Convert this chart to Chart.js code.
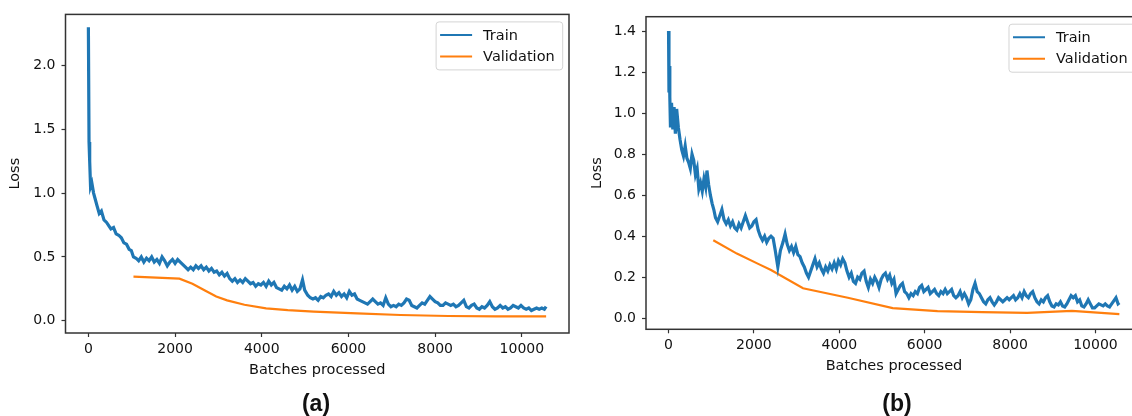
<!DOCTYPE html>
<html>
<head>
<meta charset="utf-8">
<script src="https://cdn.jsdelivr.net/npm/chart.js@4.4.1/dist/chart.umd.min.js"></script>
<style>
  html, body { margin: 0; padding: 0; background: #fff; overflow: hidden; width: 1132px; height: 416px; }
  canvas { position: absolute; top: 0; }
  #chartA { left: 0; }
  #chartB { left: 570px; }
  .cap { position: absolute; top: 389px; width: 100px; text-align: center;
         font: bold 23px "Liberation Sans", Arial, sans-serif; line-height: 28px; color: #111; }
</style>
</head>
<body>
<canvas id="chartA" width="575" height="390"></canvas>
<canvas id="chartB" width="580" height="390"></canvas>
<div class="cap" style="left:266px">(a)</div>
<div class="cap" style="left:847px">(b)</div>
<script>
const xTicks = [0, 2000, 4000, 6000, 8000, 10000];
const yTicksA = [0, 0.5, 1.0, 1.5, 2.0];
const yTicksB = [0, 0.2, 0.4, 0.6, 0.8, 1.0, 1.2, 1.4];
const seriesNames = ["Train", "Validation"];

// panel (a): [batches, loss]
const trainA = [
  [0,2.30],[15,1.40],[30,1.25],[50,1.05],[80,1.08],[120,1.00],[160,0.95],[200,0.90],[250,0.84],[300,0.86],
  [360,0.79],[420,0.77],[480,0.74],[520,0.72],[580,0.73],[640,0.68],[700,0.67],[760,0.65],[820,0.61],[880,0.60],
  [940,0.56],[990,0.55],[1040,0.50],[1100,0.49],[1160,0.47],[1220,0.50],[1280,0.46],[1340,0.49],[1400,0.47],[1460,0.50],
  [1520,0.46],[1580,0.48],[1640,0.45],[1700,0.50],[1760,0.47],[1820,0.43],[1880,0.46],[1940,0.48],[2000,0.45],[2060,0.48],
  [2120,0.46],[2180,0.44],[2240,0.42],[2300,0.40],[2360,0.42],[2420,0.40],[2480,0.43],[2540,0.41],[2600,0.43],[2660,0.40],
  [2720,0.42],[2780,0.39],[2840,0.41],[2900,0.38],[2960,0.39],[3020,0.36],[3080,0.38],[3140,0.35],[3200,0.37],[3260,0.33],
  [3320,0.31],[3380,0.33],[3440,0.30],[3500,0.32],[3560,0.30],[3620,0.33],[3680,0.31],[3740,0.29],[3800,0.30],[3860,0.27],
  [3920,0.29],[3980,0.28],[4040,0.30],[4100,0.27],[4160,0.31],[4220,0.28],[4280,0.30],[4340,0.26],[4400,0.25],[4460,0.24],
  [4520,0.27],[4580,0.25],[4640,0.28],[4700,0.24],[4760,0.27],[4820,0.23],[4880,0.25],[4940,0.32],[4990,0.24],[5060,0.20],
  [5120,0.18],[5180,0.17],[5240,0.18],[5300,0.16],[5360,0.19],[5420,0.18],[5480,0.20],[5540,0.21],[5600,0.19],[5660,0.23],
  [5720,0.20],[5780,0.22],[5840,0.19],[5900,0.21],[5960,0.18],[6020,0.23],[6080,0.20],[6140,0.21],[6200,0.17],[6260,0.16],
  [6320,0.15],[6380,0.14],[6440,0.13],[6500,0.15],[6560,0.17],[6620,0.15],[6680,0.13],[6740,0.14],[6800,0.12],[6860,0.18],
  [6920,0.13],[6980,0.11],[7040,0.12],[7100,0.11],[7160,0.13],[7220,0.12],[7280,0.14],[7340,0.17],[7400,0.16],[7460,0.12],
  [7520,0.11],[7580,0.10],[7640,0.12],[7700,0.14],[7760,0.13],[7820,0.16],[7880,0.19],[7940,0.17],[8000,0.15],[8060,0.14],
  [8120,0.12],[8180,0.12],[8240,0.14],[8300,0.13],[8360,0.12],[8420,0.13],[8480,0.11],[8540,0.12],[8600,0.14],[8660,0.16],
  [8720,0.11],[8780,0.10],[8840,0.12],[8900,0.13],[8960,0.10],[9020,0.09],[9080,0.11],[9140,0.10],[9200,0.12],[9260,0.15],
  [9320,0.11],[9380,0.09],[9440,0.10],[9500,0.12],[9560,0.10],[9620,0.11],[9680,0.09],[9740,0.10],[9800,0.12],[9860,0.11],
  [9920,0.10],[9980,0.12],[10040,0.10],[10100,0.09],[10160,0.10],[10220,0.08],[10280,0.09],[10340,0.10],[10400,0.09],[10460,0.10],
  [10520,0.09],[10560,0.11]
];
const valA = [
  [1040,0.345],[2100,0.33],[2400,0.29],[2700,0.235],[2950,0.19],[3200,0.16],[3600,0.125],[4100,0.097],
  [4600,0.083],[5200,0.072],[6200,0.058],[7200,0.045],[8300,0.037],[9400,0.034],[10560,0.034]
];

// panel (b)
const trainB = [
  [0,1.40],[10,1.10],[20,1.23],[30,1.08],[45,0.93],[70,1.05],[100,0.92],[130,1.03],[160,0.90],[190,1.02],
  [230,0.93],[270,0.87],[310,0.82],[350,0.79],[390,0.84],[430,0.78],[470,0.76],[510,0.73],[550,0.80],[590,0.77],
  [630,0.70],[670,0.73],[710,0.63],[750,0.66],[790,0.62],[830,0.68],[870,0.64],[900,0.72],[940,0.65],[980,0.60],
  [1020,0.56],[1060,0.53],[1100,0.49],[1150,0.47],[1200,0.50],[1250,0.53],[1300,0.48],[1350,0.46],[1400,0.48],[1450,0.45],
  [1500,0.47],[1550,0.44],[1600,0.43],[1650,0.46],[1700,0.44],[1750,0.47],[1800,0.50],[1850,0.47],[1900,0.44],[1950,0.45],
  [2000,0.47],[2050,0.48],[2100,0.43],[2150,0.40],[2200,0.38],[2250,0.40],[2300,0.37],[2350,0.39],[2400,0.40],[2450,0.39],
  [2500,0.33],[2560,0.25],[2620,0.33],[2680,0.37],[2730,0.41],[2780,0.36],[2830,0.33],[2880,0.35],[2930,0.32],[2980,0.35],
  [3030,0.31],[3080,0.30],[3130,0.27],[3180,0.25],[3230,0.22],[3280,0.20],[3330,0.23],[3380,0.26],[3430,0.29],[3480,0.25],
  [3530,0.27],[3580,0.24],[3630,0.22],[3680,0.25],[3730,0.23],[3780,0.26],[3830,0.24],[3880,0.27],[3930,0.24],[3980,0.28],
  [4030,0.26],[4080,0.29],[4130,0.27],[4180,0.23],[4230,0.20],[4280,0.22],[4330,0.18],[4380,0.17],[4430,0.20],[4480,0.19],
  [4530,0.22],[4580,0.23],[4630,0.18],[4680,0.15],[4730,0.19],[4780,0.17],[4830,0.20],[4880,0.18],[4930,0.15],[4980,0.19],
  [5030,0.21],[5080,0.22],[5130,0.19],[5180,0.21],[5230,0.17],[5280,0.19],[5330,0.12],[5380,0.14],[5430,0.16],[5480,0.17],
  [5530,0.13],[5580,0.12],[5630,0.10],[5680,0.12],[5730,0.11],[5780,0.13],[5830,0.12],[5880,0.15],[5930,0.16],[5980,0.13],
  [6030,0.14],[6080,0.15],[6130,0.12],[6180,0.13],[6230,0.14],[6280,0.12],[6330,0.11],[6380,0.13],[6430,0.12],[6480,0.14],
  [6530,0.12],[6580,0.13],[6630,0.14],[6680,0.11],[6730,0.10],[6780,0.11],[6830,0.13],[6880,0.10],[6930,0.12],[6980,0.10],
  [7030,0.07],[7080,0.09],[7130,0.14],[7180,0.17],[7230,0.13],[7280,0.12],[7330,0.10],[7380,0.08],[7430,0.07],[7480,0.09],
  [7530,0.10],[7580,0.08],[7630,0.065],[7680,0.08],[7730,0.10],[7780,0.09],[7830,0.08],[7880,0.09],[7930,0.10],[7980,0.09],
  [8030,0.10],[8080,0.11],[8130,0.09],[8180,0.10],[8230,0.12],[8280,0.10],[8330,0.13],[8380,0.11],[8430,0.10],[8480,0.12],
  [8530,0.13],[8580,0.10],[8630,0.08],[8680,0.07],[8730,0.09],[8780,0.08],[8830,0.10],[8880,0.11],[8930,0.08],[8980,0.06],
  [9030,0.055],[9080,0.07],[9130,0.065],[9180,0.08],[9230,0.06],[9280,0.055],[9330,0.07],[9380,0.09],[9430,0.11],[9480,0.10],
  [9530,0.11],[9580,0.08],[9630,0.09],[9680,0.06],[9730,0.055],[9780,0.07],[9830,0.09],[9880,0.07],[9930,0.05],[9980,0.05],
  [10030,0.06],[10080,0.07],[10130,0.065],[10180,0.06],[10230,0.07],[10280,0.06],[10330,0.055],[10380,0.07],[10430,0.085],[10480,0.10],
  [10530,0.07],[10560,0.075]
];
const valB = [
  [1048,0.38],[1600,0.315],[2100,0.265],[2400,0.235],[3150,0.146],[4200,0.10],[5250,0.049],[6300,0.035],
  [7350,0.030],[8400,0.026],[9450,0.036],[10560,0.02]
];

const FONT = '"DejaVu Sans", sans-serif';
const BLUE = '#1f77b4', ORANGE = '#ff7f0e';

// frame around the axes + matplotlib-like legend in the upper right
const frameAndLegend = {
  id: 'frameAndLegend',
  afterDraw(chart) {
    const { ctx, chartArea: a } = chart;
    ctx.save();
    ctx.strokeStyle = '#333';
    ctx.lineWidth = 1.5;
    ctx.strokeRect(a.left, a.top, a.right - a.left, a.bottom - a.top);

    ctx.font = '14.5px ' + FONT;
    const ds = chart.data.datasets;
    const tw = Math.max(...ds.map(d => ctx.measureText(d.label).width));
    const w = 47 + tw + 8, h = 48;
    const x = a.right - 6.3 - w, y = a.top + 7.5;
    ctx.beginPath();
    if (ctx.roundRect) ctx.roundRect(x, y, w, h, 3); else ctx.rect(x, y, w, h);
    ctx.fillStyle = 'rgba(255,255,255,0.85)';
    ctx.fill();
    ctx.strokeStyle = '#d4d4d4';
    ctx.lineWidth = 1;
    ctx.stroke();
    ds.forEach((d, i) => {
      const ly = y + 13 + i * 21.5;
      ctx.strokeStyle = d.borderColor;
      ctx.lineWidth = 2;
      ctx.beginPath();
      ctx.moveTo(x + 4, ly);
      ctx.lineTo(x + 36, ly);
      ctx.stroke();
      ctx.fillStyle = '#111';
      ctx.textBaseline = 'middle';
      ctx.fillText(d.label, x + 47, ly + 1);
    });
    ctx.restore();
  }
};

function makeChart(id, train, val, yTicks, g) {
  return new Chart(document.getElementById(id), {
    type: 'line',
    data: {
      datasets: [
        { label: seriesNames[0], data: train.map(p => ({ x: p[0], y: p[1] })),
          borderColor: BLUE, borderWidth: 3.2, pointRadius: 0, tension: 0 },
        { label: seriesNames[1], data: val.map(p => ({ x: p[0], y: p[1] })),
          borderColor: ORANGE, borderWidth: 2.2, pointRadius: 0, tension: 0 }
      ]
    },
    options: {
      responsive: false,
      animation: false,
      layout: { padding: { left: 0, top: g.top, right: g.right, bottom: 0 } },
      plugins: { legend: { display: false }, tooltip: { enabled: false } },
      scales: {
        x: {
          type: 'linear', min: -528, max: 11088,
          afterBuildTicks: s => { s.ticks = xTicks.map(v => ({ value: v })); },
          afterFit: s => { s.height = g.xh; },
          border: { display: false },
          grid: { drawOnChartArea: false, drawTicks: true, tickLength: 4, color: '#333', tickWidth: 1.2 },
          ticks: { autoSkip: false, maxRotation: 0, padding: 4, color: '#111',
                   font: { family: FONT, size: g.tick }, callback: v => String(v) },
          title: { display: true, text: 'Batches processed', color: '#111',
                   font: { family: FONT, size: 14.5 }, padding: { top: 0, bottom: g.xtPad } }
        },
        y: {
          type: 'linear', min: g.ymin, max: g.ymax,
          afterBuildTicks: s => { s.ticks = yTicks.map(v => ({ value: v })); },
          afterFit: s => { s.width = g.yw; },
          border: { display: false },
          grid: { drawOnChartArea: false, drawTicks: true, tickLength: 4, color: '#333', tickWidth: 1.2 },
          ticks: { autoSkip: false, padding: 6, color: '#111',
                   font: { family: FONT, size: g.tick }, callback: v => v.toFixed(1) },
          title: { display: true, text: 'Loss', color: '#111',
                   font: { family: FONT, size: 14.5 }, padding: { top: g.ytPad, bottom: 0 } }
        }
      }
    },
    plugins: [frameAndLegend]
  });
}

makeChart('chartA', trainA, valA, yTicksA,
  { top: 12.7, right: 6, xh: 57, yw: 65.5, ymin: -0.096, ymax: 2.40, tick: 14, xtPad: 11.3, ytPad: 6.6 });
makeChart('chartB', trainB, valB, yTicksB,
  { top: 16.7, right: 8.1, xh: 60.7, yw: 76, ymin: -0.054, ymax: 1.47, tick: 14, xtPad: 14.6, ytPad: 18.2 });
</script>
</body>
</html>
